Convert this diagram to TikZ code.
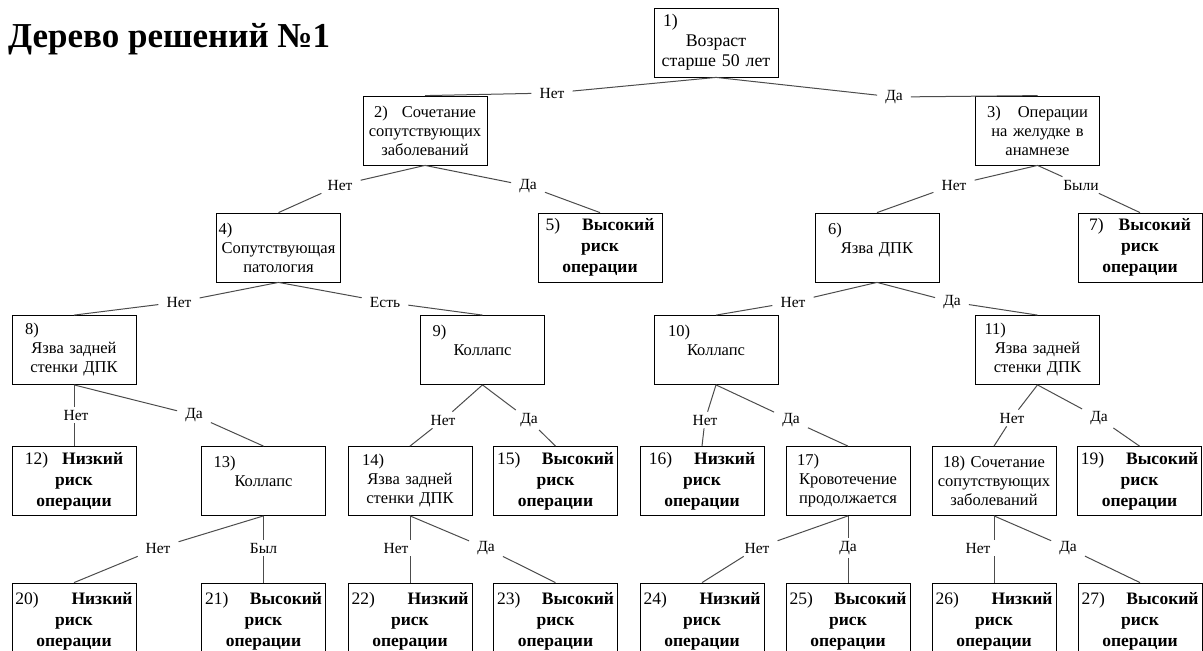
\documentclass[tikz,border=0pt]{standalone}
\usepackage{fontspec}
\setmainfont{Liberation Serif}
\newcommand\firstleft[2]{\makebox[120pt][l]{\hspace{#1pt}#2}}
\newcommand\jst[2]{\makebox[117pt]{\textmd{#1}\hfill #2}}
\newcommand\conn[3]{\draw[conn] (#1.south) -- (#2); \draw[conn] (#2) -- (#3.north);}
\newcommand\vconn[3]{\draw[conn] (#1.south) -- (#1.south |- #2.north); \draw[conn] (#3.north |- #2.south) -- (#3.north);}
\begin{document}
\begin{tikzpicture}[x=1pt,y=-1pt,
  box/.style={draw=black, line width=0.8pt, minimum width=124pt, minimum height=69pt, inner sep=0pt, text width=120pt, align=center, font=\fontsize{16.5}{19}\selectfont},
  hbox/.style={box, font=\fontsize{17.5}{21}\selectfont\bfseries},
  lowbox/.style={hbox, minimum height=76pt},
  lbl/.style={font=\fontsize{15.5}{18}\selectfont, inner xsep=8pt, inner ysep=3pt},
  conn/.style={draw=black!70, line width=1pt},
  title/.style={font=\fontsize{35}{40}\selectfont\bfseries, inner sep=0pt, anchor=base west}]
\useasboundingbox (0,0) rectangle (1203,651);
\node[title] (title) at (8,47) {Дерево решений №1};
% boxes
\node[box, font=\fontsize{17.8}{20}\selectfont] (b1) at (716,42.5) {\firstleft{7}{1)}\\Возраст\\старше 50 лет};
\node[box] (b2) at (425,130.5) {2)\hspace{14pt}Сочетание\\сопутствующих\\заболеваний};
\node[box] (b3) at (1037.5,130.5) {3)\hspace{17pt}Операции\\на желудке в\\анамнезе};
\node[box] (b4) at (278.5,247.5) {\firstleft{0}{4)}\\Сопутствующая\\патология};
\node[hbox] (b5) at (600,247.5) {\textmd{5)}\hspace{22pt}Высокий\\риск\\операции};
\node[box] (b6) at (877,247.5) {\firstleft{11}{6)}\\Язва ДПК\\\mbox{}};
\node[hbox] (b7) at (1140,247.5) {\textmd{7)}\hspace{15pt}Высокий\\риск\\операции};
\node[box] (b8) at (74,350) {\firstleft{11}{8)}\\Язва задней\\стенки ДПК};
\node[box] (b9) at (482.5,350) {\firstleft{10}{9)}\\Коллапс\\\mbox{}};
\node[box] (b10) at (716,350) {\firstleft{12}{10)}\\Коллапс\\\mbox{}};
\node[box] (b11) at (1037.5,350) {\firstleft{7}{11)}\\Язва задней\\стенки ДПК};
\node[hbox] (b12) at (74,481) {\textmd{12)}\hspace{14pt}Низкий\\риск\\операции};
\node[box] (b13) at (263.5,481) {\firstleft{10}{13)}\\Коллапс\\\mbox{}};
\node[box] (b14) at (410,481) {\firstleft{12}{14)}\\Язва задней\\стенки ДПК};
\node[hbox] (b15) at (555.5,481) {\jst{15)}{Высокий}\\риск\\операции};
\node[hbox] (b16) at (702,481) {\textmd{16)}\hspace{22pt}Низкий\\риск\\операции};
\node[box] (b17) at (848,481) {\firstleft{9}{17)}\\Кровотечение\\продолжается};
\node[box] (b18) at (994,481) {18) Сочетание\\сопутствующих\\заболеваний};
\node[hbox] (b19) at (1139.5,481) {\textmd{19)}\hspace{22pt}Высокий\\риск\\операции};
\node[lowbox] (b20) at (74,621) {\jst{20)}{Низкий}\\риск\\операции};
\node[lowbox] (b21) at (263.5,621) {\jst{21)}{Высокий}\\риск\\операции};
\node[lowbox] (b22) at (410,621) {\jst{22)}{Низкий}\\риск\\операции};
\node[lowbox] (b23) at (555.5,621) {\jst{23)}{Высокий}\\риск\\операции};
\node[lowbox] (b24) at (702,621) {\jst{24)}{Низкий}\\риск\\операции};
\node[lowbox] (b25) at (848,621) {\jst{25)}{Высокий}\\риск\\операции};
\node[lowbox] (b26) at (994,621) {\jst{26)}{Низкий}\\риск\\операции};
\node[lowbox] (b27) at (1140,621) {\jst{27)}{Высокий}\\риск\\операции};
% labels
\node[lbl] (l1n) at (552,93) {Нет};
\node[lbl] (l1d) at (894,97) {Да};
\node[lbl] (l2n) at (340,185) {Нет};
\node[lbl] (l2d) at (528,186) {Да};
\node[lbl] (l3n) at (954,185) {Нет};
\node[lbl] (l3b) at (1081,185) {Были};
\node[lbl] (l4n) at (179,302) {Нет};
\node[lbl] (l4e) at (385,302) {Есть};
\node[lbl] (l6n) at (793,302) {Нет};
\node[lbl] (l6d) at (952,302) {Да};
\node[lbl] (l8n) at (76,415) {Нет};
\node[lbl] (l8d) at (194,415) {Да};
\node[lbl] (l9n) at (443,420) {Нет};
\node[lbl] (l9d) at (529,420) {Да};
\node[lbl] (l10n) at (705,420) {Нет};
\node[lbl] (l10d) at (791,420) {Да};
\node[lbl] (l11n) at (1012,418) {Нет};
\node[lbl] (l11d) at (1099,418) {Да};
\node[lbl] (l13n) at (158,548) {Нет};
\node[lbl] (l13b) at (263.5,548) {Был};
\node[lbl] (l14n) at (396,548) {Нет};
\node[lbl] (l14d) at (486,548) {Да};
\node[lbl] (l17n) at (757,548) {Нет};
\node[lbl] (l17d) at (848,548) {Да};
\node[lbl] (l18n) at (978,548) {Нет};
\node[lbl] (l18d) at (1068,548) {Да};
% connectors
\conn{b1}{l1n}{b2}
\conn{b1}{l1d}{b3}
\conn{b2}{l2n}{b4}
\conn{b2}{l2d}{b5}
\conn{b3}{l3n}{b6}
\conn{b3}{l3b}{b7}
\conn{b4}{l4n}{b8}
\conn{b4}{l4e}{b9}
\conn{b6}{l6n}{b10}
\conn{b6}{l6d}{b11}
\vconn{b8}{l8n}{b12}
\conn{b8}{l8d}{b13}
\conn{b9}{l9n}{b14}
\conn{b9}{l9d}{b15}
\conn{b10}{l10n}{b16}
\conn{b10}{l10d}{b17}
\conn{b11}{l11n}{b18}
\conn{b11}{l11d}{b19}
\conn{b13}{l13n}{b20}
\vconn{b13}{l13b}{b21}
\vconn{b14}{l14n}{b22}
\conn{b14}{l14d}{b23}
\conn{b17}{l17n}{b24}
\vconn{b17}{l17d}{b25}
\vconn{b18}{l18n}{b26}
\conn{b18}{l18d}{b27}
\end{tikzpicture}
\end{document}
